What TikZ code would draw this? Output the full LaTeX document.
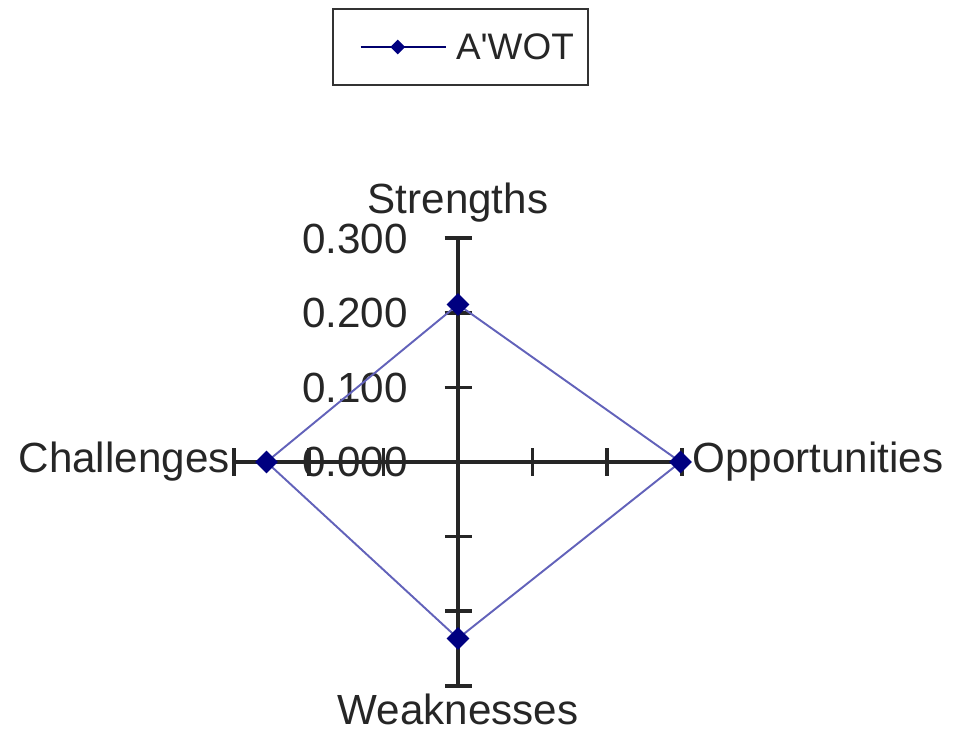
\documentclass[tikz,border=0pt]{standalone}
\usepackage{fontspec}
\setmainfont{Liberation Sans}
\usetikzlibrary{positioning,calc,shapes.geometric}
\definecolor{seriesblue}{RGB}{98,98,186}
\definecolor{markernavy}{RGB}{0,0,128}
\tikzset{
 axisline/.style={line width=1.9pt, black!85},
 seriesline/.style={line width=1.1pt, seriesblue, line join=round},
 marker/.style={diamond, fill=markernavy, inner sep=0pt, minimum size=#1},
 marker/.default=0.46cm,
 axislabel/.style={inner sep=0pt, text=black!85, font=\fontsize{24}{28}\selectfont},
 legendbox/.style={draw=black!80, line width=1.5pt, inner sep=0pt}
}

\begin{document}
\begin{tikzpicture}
 \useasboundingbox (0,0) rectangle (19.06,14.72);
 \coordinate (origin) at (9.16,5.48);

 % axes and their ticks
 \foreach \ang/\nm [evaluate=\ang as \perp using \ang+90] in {90/str,0/opp,-90/wea,180/cha} {
  \draw [axisline] (origin) -- ($(origin)+(\ang:4.48)$) coordinate (\nm end);
  \foreach \r in {1.49,2.98,4.48}
   \draw [axisline] ($(origin)+(\ang:\r)+(\perp:0.27)$) -- ($(origin)+(\ang:\r)-(\perp:0.27)$);
 }

 % tick labels
 \foreach \v [count=\i from 0] in {0.000,0.100,0.200,0.300}
  \node [axislabel, anchor=east] (tick\i) at ($(origin)+(-1.0,1.49*\i)$) {\v};

 % series
 \coordinate (strpt) at ($(origin)+(90:3.15)$);
 \coordinate (opppt) at ($(origin)+(0:4.45)$);
 \coordinate (weapt) at ($(origin)+(-90:3.53)$);
 \coordinate (chapt) at ($(origin)+(180:3.83)$);
 \draw [seriesline] (strpt) -- (opppt) -- (weapt) -- (chapt) -- cycle;
 \foreach \p in {strpt,opppt,weapt,chapt}
  \node [marker] (\p mark) at (\p) {};

 \node [axislabel, above=0.3cm of strend] (strlabel) {Strengths};
 \node [axislabel, right=0.2cm of oppend] (opplabel) {Opportunities};
 \node [axislabel, below=0.16cm of weaend] (wealabel) {Weaknesses};
 \node [axislabel, left=0.08cm of chaend] (chalabel) {Challenges};

 % legend
 \node [legendbox, minimum width=5.1cm, minimum height=1.52cm] (legend) at (9.21,13.78) {};
 \coordinate [right=0.58cm of legend.west] (legstart);
 \coordinate [right=1.7cm of legstart] (legend line end);
 \draw [line width=1.3pt, markernavy!85!black] (legstart) -- (legend line end);
 \node [marker=0.3cm, right=0.74cm of legstart, anchor=center] (legmark) {};
 \node [axislabel, font=\fontsize{21}{25}\selectfont, right=0.2cm of legend line end] (legtext) {A\textquotesingle WOT};
\end{tikzpicture}
\end{document}
